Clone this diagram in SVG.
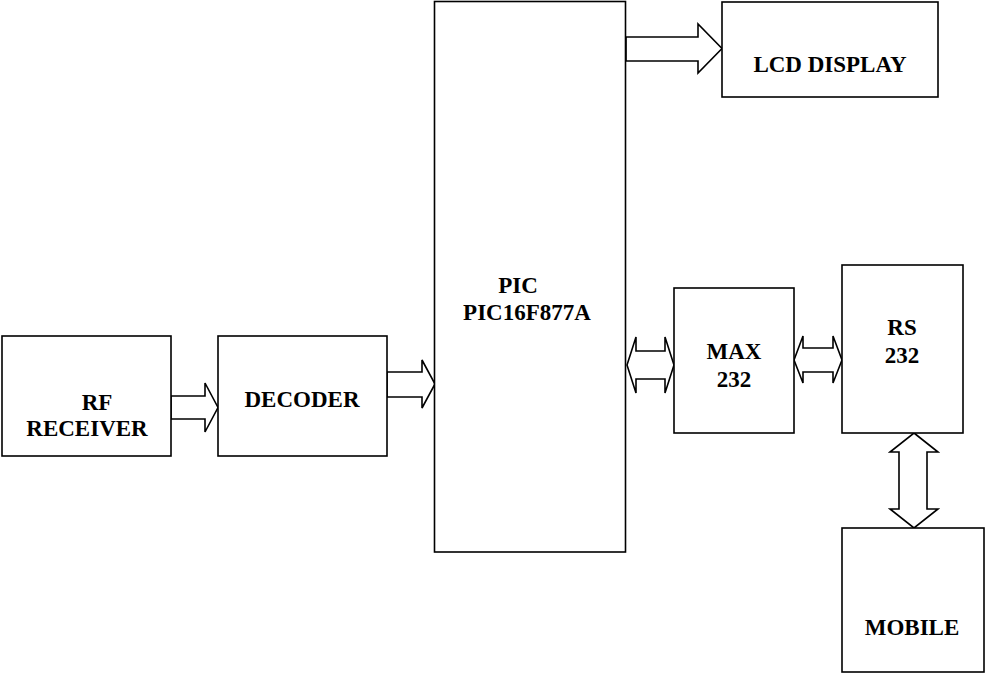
<svg xmlns="http://www.w3.org/2000/svg" width="985" height="673" viewBox="0 0 985 673">
<style>
.box{fill:#fff;stroke:#000;stroke-width:1.6}
.arr{fill:#fff;stroke:#000;stroke-width:1.6;stroke-linejoin:miter}
.t{font-family:"Liberation Serif","Times New Roman",serif;font-weight:bold;font-size:23px;fill:#000;text-anchor:middle}
</style>
<rect width="985" height="673" fill="#fff"/>
<g id="connectors">
<polygon class="arr" points="171,396 205,396 205,383 218,407.5 205,432 205,419 171,419"/>
<polygon class="arr" points="387,372 422,372 422,360 435,384 422,408 422,397 387,397"/>
<polygon class="arr" points="626,37 698,37 698,24 722,48.5 698,73 698,61 626,61"/>
<polygon class="arr" points="627,365 636,337 636,351 665,351 665,337 674,365 665,393 665,379 636,379 636,393"/>
<polygon class="arr" points="794,360 803,336 803,348 833,348 833,336 842,360 833,383 833,372 803,372 803,383"/>
<polygon class="arr" points="914,433 938,452 927,452 927,509 938,509 914,528 890,509 899,509 899,452 890,452"/>
</g>
<g id="rf-receiver">
<rect class="box" x="2" y="336" width="169" height="120"/>
<text class="t" x="97" y="410">RF</text>
<text class="t" x="87" y="436">RECEIVER</text>
</g>
<g id="decoder">
<rect class="box" x="218" y="336" width="169" height="120"/>
<text class="t" x="302" y="407">DECODER</text>
</g>
<g id="pic">
<rect class="box" x="434.5" y="1.5" width="191" height="550.5"/>
<text class="t" x="518" y="293">PIC</text>
<text class="t" x="527" y="320">PIC16F877A</text>
</g>
<g id="lcd">
<rect class="box" x="722" y="2" width="216" height="95"/>
<text class="t" x="830" y="72">LCD DISPLAY</text>
</g>
<g id="max232">
<rect class="box" x="674" y="288" width="120" height="145"/>
<text class="t" x="734" y="359">MAX</text>
<text class="t" x="734" y="387">232</text>
</g>
<g id="rs232">
<rect class="box" x="842" y="265" width="121" height="168"/>
<text class="t" x="902" y="335">RS</text>
<text class="t" x="902" y="363">232</text>
</g>
<g id="mobile">
<rect class="box" x="842" y="528" width="142" height="144"/>
<text class="t" x="912" y="635">MOBILE</text>
</g>
</svg>
